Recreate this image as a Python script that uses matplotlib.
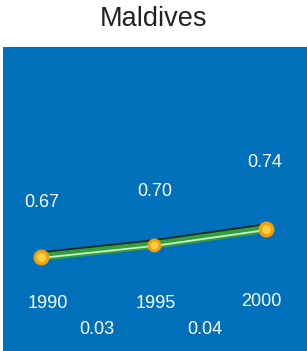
import matplotlib.pyplot as plt
import matplotlib.transforms as mtransforms

plt.rcParams['font.family'] = ['Liberation Sans', 'DejaVu Sans']

years = [1990, 1995, 2000]
values = [0.67, 0.70, 0.74]
diffs = ['0.03', '0.04']
value_labels = ['0.67', '0.70', '0.74']

fig = plt.figure(figsize=(3.07, 3.51), dpi=100)
fig.text(0.5, 0.945, 'Maldives', ha='center', va='center', fontsize=19.5, color='#222222')

ax = fig.add_axes([3 / 307, 0, 304 / 307, 304 / 351])
ax.set_facecolor('#0070BA')
for s in ax.spines.values():
    s.set_visible(False)
ax.set_xticks([])
ax.set_yticks([])
ax.set_xlim(1988.31, 2001.82)
ax.set_ylim(0.435, 1.195)

# line: dark shadow, green body, light highlight
up = mtransforms.offset_copy(ax.transData, fig=fig, x=0, y=2.2, units='dots')
down = mtransforms.offset_copy(ax.transData, fig=fig, x=0, y=-1.0, units='dots')
ax.plot(years, values, color='#1e2a22', linewidth=5.0, transform=up, solid_capstyle='butt', zorder=2)
ax.plot(years, values, color='#32a040', linewidth=5.5, solid_capstyle='butt', zorder=3)
ax.plot(years, values, color='#c8f0c0', linewidth=1.3, transform=down, solid_capstyle='butt', zorder=4)

# markers
ax.plot([years[0], years[-1]], [values[0], values[-1]], 'o', color='#f0a010', markersize=11.5, markeredgewidth=0, zorder=5)
ax.plot([years[0], years[-1]], [values[0], values[-1]], 'o', color='#ffd040', markersize=6.5, markeredgewidth=0, zorder=6)
ax.plot([years[1]], [values[1]], 'o', color='#f0a010', markersize=10, markeredgewidth=0, zorder=5)
ax.plot([years[1]], [values[1]], 'o', color='#ffd040', markersize=5.5, markeredgewidth=0, zorder=6)

# value labels above points
val_offsets = [(1, 55), (1, 54), (-1, 67)]
for x, y, lab, off in zip(years, values, value_labels, val_offsets):
    ax.annotate(lab, (x, y), xytext=off, textcoords='offset pixels',
                ha='center', va='center', color='white', fontsize=13)

# year labels below points
year_offsets = [(7, -46), (2, -58), (-5, -72)]
for x, y, off in zip(years, values, year_offsets):
    ax.annotate(str(x), (x, y), xytext=off, textcoords='offset pixels',
                ha='center', va='center', color='white', fontsize=13)

# change labels between points
diff_offsets = [(0, -78), (-5, -92)]
for i, (lab, off) in enumerate(zip(diffs, diff_offsets)):
    xm = (years[i] + years[i + 1]) / 2
    ym = (values[i] + values[i + 1]) / 2
    ax.annotate(lab, (xm, ym), xytext=off, textcoords='offset pixels',
                ha='center', va='center', color='white', fontsize=13)

fig.savefig('out.png', dpi=100)
